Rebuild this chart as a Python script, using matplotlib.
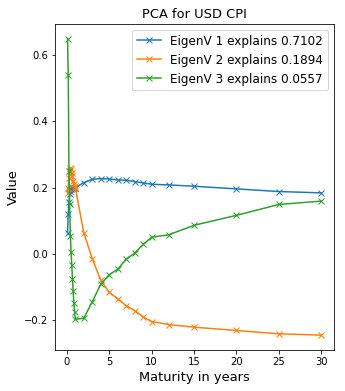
import numpy as np
import matplotlib
matplotlib.use("Agg")
import matplotlib.pyplot as plt

# Maturities (years): 1..11 months, then 1y .. 30y
maturities = [1/12, 2/12, 3/12, 4/12, 5/12, 6/12, 7/12, 8/12, 9/12, 10/12, 11/12, 1,
              2, 3, 4, 5, 6, 7, 8, 9, 10, 12, 15, 20, 25, 30]

eigv1 = [0.063, 0.12, 0.155, 0.18, 0.19, 0.195, 0.198, 0.2, 0.2, 0.2, 0.2, 0.2,
         0.215, 0.225, 0.227, 0.226, 0.223, 0.222, 0.218, 0.214, 0.21, 0.208,
         0.204, 0.196, 0.188, 0.184]
eigv2 = [0.185, 0.2, 0.23, 0.25, 0.26, 0.255, 0.245, 0.235, 0.22, 0.21, 0.205, 0.2,
         0.063, -0.015, -0.08, -0.117, -0.136, -0.157, -0.172, -0.191, -0.205,
         -0.214, -0.222, -0.232, -0.242, -0.246]
eigv3 = [0.65, 0.54, 0.25, 0.15, 0.055, 0.005, -0.035, -0.077, -0.114, -0.15,
         -0.177, -0.198, -0.195, -0.145, -0.092, -0.063, -0.047, -0.016, 0.002,
         0.028, 0.05, 0.057, 0.086, 0.116, 0.149, 0.159]

explained = [0.7102, 0.1894, 0.0557]

fig = plt.figure(figsize=(345/72, 391/72), dpi=72)
ax = fig.add_axes([0.159, 0.105, 0.809, 0.834])

for i, vals in enumerate([eigv1, eigv2, eigv3]):
    ax.plot(maturities, vals, marker="x",
            label="EigenV " + str(i+1) + " explains " + str(explained[i]))

ax.set_title("PCA for USD CPI", fontsize=13)
ax.set_xlabel("Maturity in years", fontsize=13)
ax.set_ylabel("Value", fontsize=13)
ax.set_yticks([-0.2, 0.0, 0.2, 0.4, 0.6])
ax.legend(fontsize=12)

fig.savefig("out.png", dpi=72)
